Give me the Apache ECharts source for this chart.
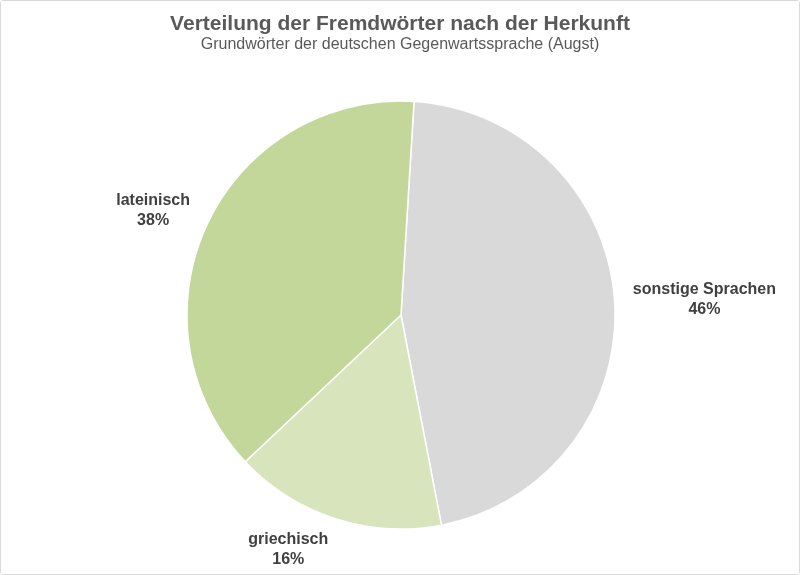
<!DOCTYPE html>
<html>
<head>
<meta charset="utf-8">
<script src="https://cdn.jsdelivr.net/npm/echarts@6/dist/echarts.min.js"></script>
<style>
  html, body { margin: 0; padding: 0; background: #fff; }
  #chart { width: 798px; height: 573px; border: 1px solid #d9d9d9; border-radius: 3px; }
</style>
</head>
<body>
<div id="chart"></div>
<script>
  // Daten (Reihenfolge im Uhrzeigersinn ab oben)
  var categories = ['sonstige Sprachen', 'griechisch', 'lateinisch'];
  var values = [46, 16, 38];
  var colors = ['#d9d9d9', '#d8e4bc', '#c4d79b'];
  // Verschiebung der Beschriftung wie im Original (px)
  var labelShiftX = [38, -31, -7];
  var labelShiftY = [2, -19, 8];

  var chart = echarts.init(document.getElementById('chart'));
  var option = {
    backgroundColor: '#fff',
    title: {
      text: 'Verteilung der Fremdwörter nach der Herkunft',
      subtext: 'Grundwörter der deutschen Gegenwartssprache (Augst)',
      left: 'center',
      top: 8,
      itemGap: 2,
      textStyle: {
        fontFamily: 'Liberation Sans',
        fontSize: 21,
        fontWeight: 'bold',
        color: '#595959'
      },
      subtextStyle: {
        fontFamily: 'Liberation Sans',
        fontSize: 16,
        color: '#595959'
      }
    },
    series: [{
      type: 'pie',
      center: [400, 314],
      radius: 214,
      startAngle: 86.5,
      clockwise: true,
      avoidLabelOverlap: false,
      itemStyle: {
        borderColor: '#fff',
        borderWidth: 1.5
      },
      emphasis: { disabled: true },
      label: {
        position: 'outside',
        formatter: '{a|{b}}\n{a|{d}%}',
        distanceToLabelLine: 0,
        rich: {
          a: {
            fontFamily: 'Liberation Sans',
            fontSize: 16,
            fontWeight: 'bold',
            color: '#404040',
            align: 'center',
            lineHeight: 20
          }
        }
      },
      labelLine: { show: false, length: 52, length2: 0 },
      labelLayout: function (params) {
        return {
          align: 'center',
          verticalAlign: 'middle',
          dx: labelShiftX[params.dataIndex],
          dy: labelShiftY[params.dataIndex]
        };
      },
      data: categories.map(function (name, i) {
        return { name: name, value: values[i], itemStyle: { color: colors[i] } };
      })
    }]
  };
  chart.setOption(option);
</script>
</body>
</html>
